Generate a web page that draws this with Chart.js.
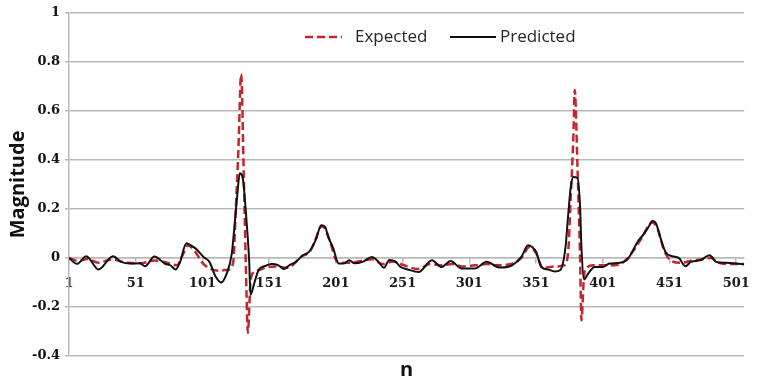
<!DOCTYPE html>
<html>
<head>
<meta charset="utf-8">
<script src="https://cdn.jsdelivr.net/npm/chart.js@4.4.1/dist/chart.umd.min.js"></script>
<style>
  html, body { margin: 0; padding: 0; background: #ffffff; }
  #wrap { width: 763px; height: 384px; }
</style>
</head>
<body>
<div id="wrap"><canvas id="chart" width="763" height="384"></canvas></div>
<script>
// Sample indices n and signal magnitudes for both series
const seriesNames = ['Expected', 'Predicted'];

const xTickLabels = [1, 51, 101, 151, 201, 251, 301, 351, 401, 451, 501];
const yTickLabels = [-0.4, -0.2, 0, 0.2, 0.4, 0.6, 0.8, 1];

const expectedN = [1, 8, 15, 23, 33, 45, 55, 65, 75, 82, 86, 90, 95, 101, 107, 113, 120, 124, 126, 128, 130, 132, 134, 135, 137, 139, 143, 148, 156, 165, 175, 182, 186, 190, 193, 197, 202, 210, 220, 228, 236, 244, 252, 262, 272, 280, 288, 296, 305, 314, 322, 332, 340, 346, 351, 356, 365, 372, 375, 377, 379, 380, 382, 384, 385, 387, 389, 394, 402, 410, 418, 424, 430, 438, 442, 447, 452, 460, 468, 476, 482, 488, 496, 507];
const expectedV = [0, -0.012, -0.004, -0.02, -0.006, -0.02, -0.022, -0.01, -0.02, -0.03, 0.01, 0.052, 0.03, -0.02, -0.045, -0.052, -0.048, -0.02, 0.2, 0.45, 0.75, 0.33, -0.14, -0.305, -0.1, -0.06, -0.05, -0.04, -0.035, -0.04, 0.005, 0.03, 0.08, 0.128, 0.12, 0.06, -0.015, -0.02, -0.012, -0.005, -0.025, -0.015, -0.03, -0.045, -0.025, -0.03, -0.025, -0.035, -0.03, -0.025, -0.03, -0.025, 0, 0.045, 0.02, -0.04, -0.035, -0.03, 0.02, 0.25, 0.5, 0.685, 0.38, 0, -0.255, -0.07, -0.04, -0.03, -0.03, -0.03, -0.01, 0.03, 0.08, 0.145, 0.12, 0.03, -0.01, -0.02, -0.01, -0.005, 0, -0.02, -0.025, -0.025];

const predictedN = [1, 7, 14, 23, 34, 40, 47, 54, 58, 65, 73, 77, 81, 84, 89, 91, 96, 102, 106, 111, 115, 119, 123, 125, 127, 129, 131, 132, 134, 136, 137, 140, 143, 148, 153, 158, 162, 166, 171, 176, 181, 186, 190, 193, 195, 199, 203, 207, 211, 215, 221, 228, 233, 237, 241, 246, 249, 255, 263, 273, 280, 287, 295, 305, 314, 322, 325, 333, 340, 345, 348, 351, 355, 360, 365, 369, 373, 375, 377, 379, 382, 384, 385, 387, 390, 395, 401, 406, 414, 420, 423, 427, 432, 436, 438, 441, 444, 448, 453, 458, 463, 467, 474, 481, 486, 493, 501, 507];
const predictedV = [0, -0.024, 0.007, -0.047, 0.007, -0.016, -0.023, -0.022, -0.034, 0.006, -0.024, -0.03, -0.047, -0.02, 0.06, 0.055, 0.038, 0.003, -0.014, -0.077, -0.1, -0.066, 0.018, 0.13, 0.25, 0.345, 0.33, 0.29, 0.154, -0.01, -0.15, -0.1, -0.05, -0.033, -0.025, -0.03, -0.045, -0.03, -0.016, 0.01, 0.026, 0.075, 0.133, 0.127, 0.09, 0.04, -0.023, -0.023, -0.009, -0.022, -0.016, 0.004, -0.016, -0.04, -0.008, -0.016, -0.035, -0.047, -0.057, -0.009, -0.037, -0.012, -0.043, -0.043, -0.016, -0.037, -0.039, -0.03, 0.004, 0.052, 0.045, 0.025, -0.037, -0.047, -0.055, -0.05, 0.04, 0.17, 0.289, 0.33, 0.326, 0.208, 0.045, -0.088, -0.064, -0.037, -0.037, -0.023, -0.02, -0.003, 0.024, 0.065, 0.099, 0.133, 0.151, 0.14, 0.086, 0.024, 0.007, 0, -0.034, -0.016, -0.01, 0.011, -0.016, -0.02, -0.023, -0.026];

const toPoints = (ns, vs) => ns.map((n, i) => ({ x: n, y: vs[i] }));

const GRID = '#b9b9b9';
const TICK_FONT = { family: 'DejaVu Serif', size: 13, weight: 'bold' };

// Legend drawn inside the plot, near the top
const insideLegend = {
  id: 'insideLegend',
  afterDraw(chart, args, opts) {
    const ctx = chart.ctx;
    ctx.save();
    ctx.font = opts.font;
    ctx.textBaseline = 'middle';
    ctx.textAlign = 'left';
    chart.data.datasets.forEach((ds, i) => {
      const it = opts.items[i];
      ctx.beginPath();
      ctx.strokeStyle = ds.borderColor;
      ctx.lineWidth = ds.borderWidth;
      ctx.setLineDash(ds.borderDash || []);
      ctx.moveTo(it.x0, opts.y);
      ctx.lineTo(it.x1, opts.y);
      ctx.stroke();
      ctx.setLineDash([]);
      ctx.fillStyle = opts.color;
      ctx.fillText(ds.label, it.tx, opts.y);
    });
    ctx.restore();
  }
};

new Chart(document.getElementById('chart'), {
  type: 'line',
  data: {
    datasets: [
      {
        label: seriesNames[0],
        data: toPoints(expectedN, expectedV),
        borderColor: '#c3262e',
        borderWidth: 2.5,
        borderDash: [8, 4],
        pointRadius: 0,
        cubicInterpolationMode: 'monotone',
        fill: false,
        order: 2
      },
      {
        label: seriesNames[1],
        data: toPoints(predictedN, predictedV),
        borderColor: '#111111',
        borderWidth: 2,
        pointRadius: 0,
        cubicInterpolationMode: 'monotone',
        fill: false,
        order: 1
      }
    ]
  },
  options: {
    responsive: false,
    animation: false,
    devicePixelRatio: 1,
    layout: { padding: { top: 12, right: 6, left: 0, bottom: 0 } },
    plugins: {
      legend: { display: false },
      tooltip: { enabled: false },
      insideLegend: {
        y: 37,
        font: '17px "Open Sans"',
        color: '#262626',
        items: [
          { x0: 305, x1: 342, tx: 355 },
          { x0: 450, x1: 496, tx: 500 }
        ]
      }
    },
    scales: {
      x: {
        type: 'linear',
        position: { y: 0 },
        min: 1,
        max: 507,
        afterBuildTicks: (scale) => { scale.ticks = xTickLabels.map(v => ({ value: v })); },
        ticks: {
          font: TICK_FONT,
          color: '#1a1a1a',
          padding: 13,
          maxRotation: 0,
          autoSkip: false,
          callback: (v) => String(v)
        },
        grid: { drawOnChartArea: false, drawTicks: true, tickLength: 5, color: GRID, lineWidth: 1.5 },
        border: { display: true, color: GRID, width: 1.5 }
      },
      xTitle: {
        type: 'linear',
        position: 'bottom',
        min: 1,
        max: 507,
        ticks: { display: false },
        grid: { display: false, drawTicks: false },
        border: { display: false },
        title: {
          display: true,
          text: 'n',
          color: '#111111',
          font: { family: 'Open Sans', size: 20, weight: 'bold' },
          padding: { top: 2, bottom: 2 }
        }
      },
      y: {
        type: 'linear',
        min: -0.4,
        max: 1,
        afterBuildTicks: (scale) => { scale.ticks = yTickLabels.map(v => ({ value: v })); },
        afterFit: (scale) => { scale.width = 69; },
        ticks: {
          font: TICK_FONT,
          color: '#111111',
          padding: 5,
          callback: (v) => String(v)
        },
        grid: { color: GRID, lineWidth: 1.5, tickLength: 4 },
        border: { display: true, color: GRID, width: 1.5 },
        title: {
          display: true,
          text: 'Magnitude',
          color: '#111111',
          font: { family: 'Open Sans', size: 20, weight: 'bold' },
          padding: { top: 6, bottom: 0 }
        }
      }
    }
  },
  plugins: [insideLegend]
});
</script>
</body>
</html>
